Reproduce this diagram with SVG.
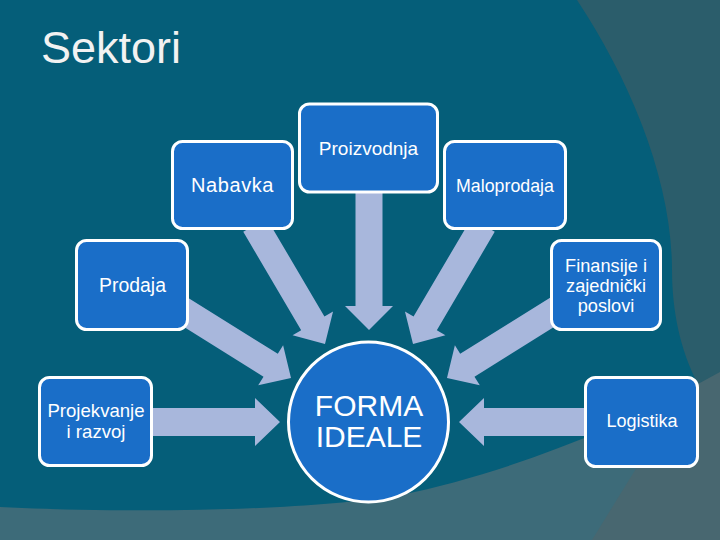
<svg xmlns="http://www.w3.org/2000/svg" width="720" height="540" viewBox="0 0 720 540">
  <style>
    .box { fill: #1a6ec8; stroke: #ffffff; stroke-width: 3; }
    .arr { fill: #a8b7dc; }
    .lbl { fill: #ffffff; font-family: "Liberation Sans", Arial, sans-serif; text-anchor: middle; }
  </style>
  <g id="background">
    <rect x="0" y="0" width="720" height="540" fill="#486770"/>
    <path d="M540,0 L720,0 L720,372 L698,384 L540,384 Z" fill="#2b5d6b"/>
    <path d="M0,420 L698,384 L637,467 L592,540 L0,540 Z" fill="#3d6b79"/>
    <path d="M0,0 L577,0 C630,80 672,180 672,270 C672,310 680,350 698,384 C610,432 500,475 400,495 C300,512 120,513 0,507 Z" fill="#055e79"/>
  </g>
  <text x="41" y="63" font-family="Liberation Sans, Arial, sans-serif" font-size="45" fill="#f2f2f2">Sektori</text>
  <g id="connectors">
    <polygon class="arr" transform="translate(369,188) rotate(90)" points="0,-13.5 118,-13.5 118,-24 142,0 118,24 118,13.5 0,13.5"/>
    <polygon class="arr" transform="translate(254.9,225) rotate(59.5)" points="0,-13.5 114.1,-13.5 114.1,-23.5 138.1,0 114.1,23.5 114.1,13.5 0,13.5"/>
    <polygon class="arr" transform="translate(483.1,225) rotate(120.5)" points="0,-13.5 114.1,-13.5 114.1,-23.5 138.1,0 114.1,23.5 114.1,13.5 0,13.5"/>
    <polygon class="arr" transform="translate(180,308.6) rotate(32)" points="0,-13.5 106.9,-13.5 106.9,-23.5 130.9,0 106.9,23.5 106.9,13.5 0,13.5"/>
    <polygon class="arr" transform="translate(558,308.6) rotate(148)" points="0,-13.5 106.9,-13.5 106.9,-23.5 130.9,0 106.9,23.5 106.9,13.5 0,13.5"/>
    <polygon class="arr" transform="translate(148,422) rotate(0)" points="0,-14 107,-14 107,-24 132,0 107,24 107,14 0,14"/>
    <polygon class="arr" transform="translate(590,422) rotate(180)" points="0,-14 106,-14 106,-24 131,0 106,24 106,14 0,14"/>
  </g>
  <g id="proizvodnja">
    <rect class="box" x="299.5" y="104" width="138" height="88" rx="10"/>
    <text class="lbl" x="368.5" y="155" font-size="19">Proizvodnja</text>
  </g>
  <g id="nabavka">
    <rect class="box" x="172.5" y="141.5" width="120" height="87" rx="10"/>
    <text class="lbl" x="232.5" y="192" font-size="20" letter-spacing="0.6">Nabavka</text>
  </g>
  <g id="maloprodaja">
    <rect class="box" x="444.5" y="141.5" width="121" height="87" rx="10"/>
    <text class="lbl" x="505" y="192" font-size="17.8">Maloprodaja</text>
  </g>
  <g id="prodaja">
    <rect class="box" x="76.5" y="240.5" width="111" height="89" rx="10"/>
    <text class="lbl" x="132.5" y="292" font-size="19.4">Prodaja</text>
  </g>
  <g id="finansije">
    <rect class="box" x="551.5" y="240.5" width="109" height="89" rx="10"/>
    <text class="lbl" x="606" y="272" font-size="18.2">Finansije i</text>
    <text class="lbl" x="606" y="292" font-size="18.2">zajednički</text>
    <text class="lbl" x="606" y="311.5" font-size="18.2">poslovi</text>
  </g>
  <g id="projekvanje">
    <rect class="box" x="39.5" y="377.5" width="112" height="88" rx="10"/>
    <text class="lbl" x="96" y="417" font-size="18.6">Projekvanje</text>
    <text class="lbl" x="96" y="438" font-size="18.6">i razvoj</text>
  </g>
  <g id="logistika">
    <rect class="box" x="585.5" y="377.5" width="112" height="89" rx="10"/>
    <text class="lbl" x="642" y="427" font-size="18">Logistika</text>
  </g>
  <g id="forma-ideale">
    <circle class="box" cx="368.5" cy="422" r="80"/>
    <text class="lbl" x="369" y="416" font-size="30">FORMA</text>
    <text class="lbl" x="369" y="447" font-size="30">IDEALE</text>
  </g>
</svg>
